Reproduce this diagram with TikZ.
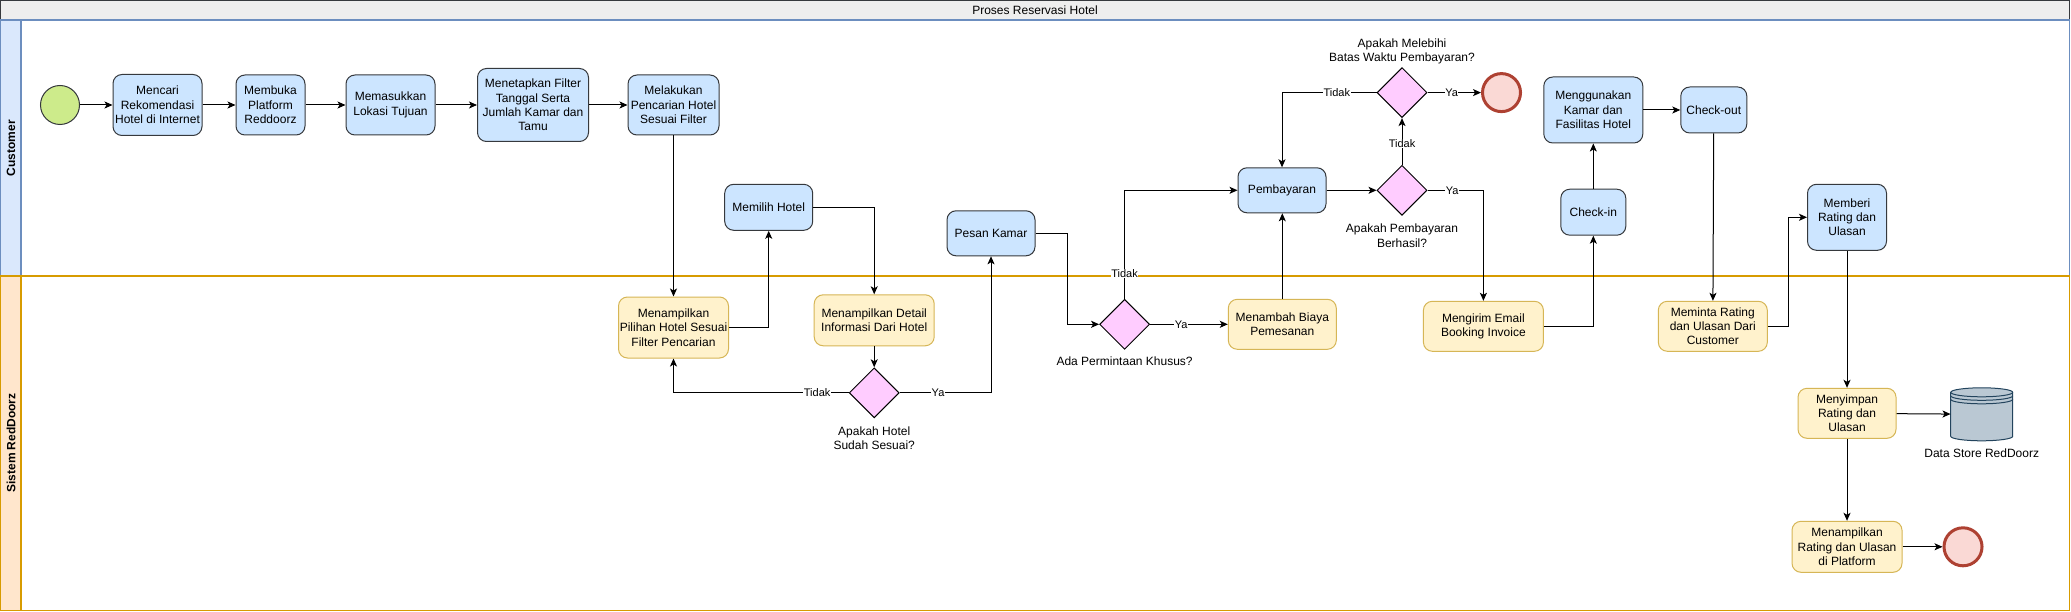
\documentclass[tikz,border=0pt]{standalone}
\usepackage{fontspec}
\setmainfont{Liberation Sans}
\usetikzlibrary{positioning,shapes.geometric,arrows.meta}

\definecolor{taskfill}{HTML}{CCE5FF}
\definecolor{taskline}{HTML}{36393D}
\definecolor{sysfill}{HTML}{FFF2CC}
\definecolor{sysline}{HTML}{D6B656}
\definecolor{gatefill}{HTML}{FFCCFF}
\definecolor{startfill}{HTML}{CDEB8B}
\definecolor{endfill}{HTML}{FAD9D5}
\definecolor{endline}{HTML}{AE4132}
\definecolor{storefill}{HTML}{BAC8D3}
\definecolor{storeline}{HTML}{23445D}
\definecolor{custhead}{HTML}{DAE8FC}
\definecolor{custline}{HTML}{6C8EBF}
\definecolor{syshead}{HTML}{FFE6CC}
\definecolor{syslane}{HTML}{D79B00}
\definecolor{titlefill}{HTML}{EEEEEE}

\tikzset{
	base/.style={font=\fontsize{12}{14.4}\selectfont, align=center, inner sep=1pt},
	task/.style={base, draw=taskline, fill=taskfill, rounded corners=9pt, line width=1pt},
	sys/.style={base, draw=sysline, fill=sysfill, rounded corners=9pt, line width=1pt},
	gate/.style={diamond, draw=black, fill=gatefill, minimum width=50pt, minimum height=50pt, inner sep=0pt, line width=1pt},
	startev/.style={circle, draw=taskline, fill=startfill, minimum size=39pt, inner sep=0pt, line width=1pt},
	endev/.style={circle, draw=endline, fill=endfill, minimum size=38pt, inner sep=0pt, line width=3pt},
	note/.style={base, inner sep=0pt},
	flow/.style={-{Stealth[length=8pt,width=7pt,inset=2pt]}, line width=1pt},
	cond/.style={font=\fontsize{11}{13}\selectfont, fill=white, inner sep=0.5pt},
}

\begin{document}
\begin{tikzpicture}[x=1pt, y=-1pt]
	\useasboundingbox	(0,0)	rectangle	(2071,612);
	\fill[white]	(0,0)	rectangle	(2071,612);

	\filldraw[fill=titlefill, draw=taskline, line width=1.2pt]	(0.6,0.6)	rectangle	(2069.5,20);
	\draw[custline, line width=1.2pt]	(0.6,20)	rectangle	(2069.5,276);
	\filldraw[fill=custhead, draw=custline, line width=1.2pt]	(0.6,20)	rectangle	(21,276);
	\draw[syslane, line width=1.2pt]	(0.6,276)	rectangle	(2069.5,610.6);
	\filldraw[fill=syshead, draw=syslane, line width=1.2pt]	(0.6,276)	rectangle	(21,610.6);

	\node[base]	(title)	at (1035,10)	{Proses Reservasi Hotel};
	\node[base, font=\fontsize{12}{14.4}\selectfont\bfseries, rotate=90]	(hdrCust)	at (11,148)	{Customer};
	\node[base, font=\fontsize{12}{14.4}\selectfont\bfseries, rotate=90]	(hdrSys)	at (11,443)	{Sistem RedDoorz};

	\node[startev]	(start)	at (60,105)	{};
	\node[task, minimum width=89pt, minimum height=61pt, right=32.5pt of start]	(mencari)	{Mencari\\Rekomendasi\\Hotel di Internet};
	\node[task, minimum width=69pt, minimum height=60pt, right=33pt of mencari]	(membuka)	{Membuka\\Platform\\Reddoorz};
	\node[task, minimum width=89pt, minimum height=60pt, right=40pt of membuka]	(lokasi)	{Memasukkan\\Lokasi Tujuan};
	\node[task, minimum width=111pt, minimum height=73pt, right=41.5pt of lokasi]	(filter)	{Menetapkan Filter\\Tanggal Serta\\Jumlah Kamar dan\\Tamu};
	\node[task, minimum width=91pt, minimum height=60pt, right=38.5pt of filter]	(cari)	{Melakukan\\Pencarian Hotel\\Sesuai Filter};

	\node[sys, minimum width=110pt, minimum height=61pt, below=161pt of cari]	(pilihan)	{Menampilkan\\Pilihan Hotel Sesuai\\Filter Pencarian};
	\node[task, minimum width=88pt, minimum height=46pt]	(pilih)	at (768.7,207.3)	{Memilih Hotel};
	\node[sys, minimum width=120pt, minimum height=51pt]	(detail)	at (874.2,320.3)	{Menampilkan Detail\\Informasi Dari Hotel};
	\node[gate, below=21pt of detail]	(dSesuai)	{};
	\node[note, below=8pt of dSesuai]	(qSesuai)	{Apakah Hotel\\Sudah Sesuai?};

	\node[task, minimum width=88pt, minimum height=45pt]	(pesan)	at (991,233.3)	{Pesan Kamar};
	\node[gate]	(dKhusus)	at (1124.6,324.3)	{};
	\node[note, below=7pt of dKhusus]	(qKhusus)	{Ada Permintaan Khusus?};
	\node[sys, minimum width=108pt, minimum height=50pt, right=77.7pt of dKhusus]	(biaya)	{Menambah Biaya\\Pemesanan};

	\node[task, minimum width=88pt, minimum height=45pt]	(bayar)	at (1282,190.3)	{Pembayaran};
	\node[gate, right=50pt of bayar]	(dBayar)	{};
	\node[note, below=8pt of dBayar]	(qBayar)	{Apakah Pembayaran\\Berhasil?};
	\node[gate, above=46.7pt of dBayar]	(dWaktu)	{};
	\node[note, above=3pt of dWaktu]	(qWaktu)	{Apakah Melebihi\\Batas Waktu Pembayaran?};
	\node[endev, right=53.5pt of dWaktu]	(endA)	{};

	\node[sys, minimum width=120pt, minimum height=50pt]	(email)	at (1483.4,326.3)	{Mengirim Email\\Booking Invoice};
	\node[task, minimum width=65pt, minimum height=46pt]	(checkin)	at (1593.3,212.2)	{Check-in};
	\node[task, minimum width=99pt, minimum height=66pt, above=45.2pt of checkin]	(pakai)	{Menggunakan\\Kamar dan\\Fasilitas Hotel};
	\node[task, minimum width=66pt, minimum height=46pt, right=37pt of pakai]	(checkout)	{Check-out};
	\node[sys, minimum width=109pt, minimum height=50pt]	(minta)	at (1712.8,326.3)	{Meminta Rating\\dan Ulasan Dari\\Customer};
	\node[task, minimum width=79pt, minimum height=66pt]	(beri)	at (1847,217.3)	{Memberi\\Rating dan\\Ulasan};

	\node[sys, minimum width=98pt, minimum height=50pt]	(simpan)	at (1847,413.3)	{Menyimpan\\Rating dan\\Ulasan};
	\node[minimum width=62pt, minimum height=53pt, inner sep=0pt, right=54pt of simpan, yshift=-1pt]	(store)	{};
	\node[note, below=8pt of store]	(qStore)	{Data Store RedDoorz};
	\node[sys, minimum width=110pt, minimum height=51pt, below=82pt of simpan]	(tampil)	{Menampilkan\\Rating dan Ulasan\\di Platform};
	\node[endev, right=40pt of tampil]	(endB)	{};

	\begin{scope}[shift={(store.center)}]
		\filldraw[fill=storefill, draw=storeline, line width=1pt]	(-31,-22)	--	(-31,22)	arc[start angle=180, end angle=360, x radius=31pt, y radius=4.5pt]	--	(31,-22)	arc[start angle=0, end angle=180, x radius=31pt, y radius=4.5pt]	--	cycle;
		\draw[storeline, line width=1pt]	(-31,-22)	arc[start angle=180, end angle=360, x radius=31pt, y radius=4.5pt];
		\draw[storeline, line width=1pt]	(-31,-18.5)	arc[start angle=180, end angle=360, x radius=31pt, y radius=4.5pt];
		\draw[storeline, line width=1pt]	(-31,-15)	arc[start angle=180, end angle=360, x radius=31pt, y radius=4.5pt];
	\end{scope}

	\draw[flow]	(start)	--	(mencari);
	\draw[flow]	(mencari)	--	(membuka);
	\draw[flow]	(membuka)	--	(lokasi);
	\draw[flow]	(lokasi)	--	(filter);
	\draw[flow]	(filter)	--	(cari);
	\draw[flow]	(cari)	--	(pilihan);
	\draw[flow]	(pilihan.east)	-|	(pilih.south);
	\draw[flow]	(pilih.east)	-|	(detail.north);
	\draw[flow]	(detail)	--	(dSesuai);
	\draw[flow]	(dSesuai.west)	-|	node[cond, pos=0.09]	{Tidak}	(pilihan.south);
	\draw[flow]	(dSesuai.east)	-|	node[cond, pos=0.21]	{Ya}	(pesan.south);
	\draw[flow]	(pesan.east)	--	++(32.4,0)	|-	(dKhusus.west);
	\draw[flow]	(dKhusus.north)	|-	node[cond, pos=0.115]	{Tidak}	(bayar.west);
	\draw[flow]	(dKhusus)	--	node[cond, pos=0.4]	{Ya}	(biaya);
	\draw[flow]	(biaya.north)	--	(biaya.north |- bayar.south);
	\draw[flow]	(bayar)	--	(dBayar);
	\draw[flow]	(dBayar)	--	node[cond, pos=0.45]	{Tidak}	(dWaktu);
	\draw[flow]	(dWaktu)	--	node[cond, pos=0.45]	{Ya}	(endA);
	\draw[flow]	(dWaktu.west)	-|	node[cond, pos=0.21]	{Tidak}	(bayar.north);
	\draw[flow]	(dBayar.east)	-|	node[cond, pos=0.22]	{Ya}	(email.north);
	\draw[flow]	(email.east)	-|	(checkin.south);
	\draw[flow]	(checkin)	--	(pakai);
	\draw[flow]	(pakai)	--	(checkout);
	\draw[flow]	(checkout)	--	(minta);
	\draw[flow]	(minta.east)	--	++(20.6,0)	|-	(beri.west);
	\draw[flow]	(beri)	--	(simpan);
	\draw[flow]	(simpan)	--	(store);
	\draw[flow]	(simpan)	--	(tampil);
	\draw[flow]	(tampil)	--	(endB);

\end{tikzpicture}
\end{document}
